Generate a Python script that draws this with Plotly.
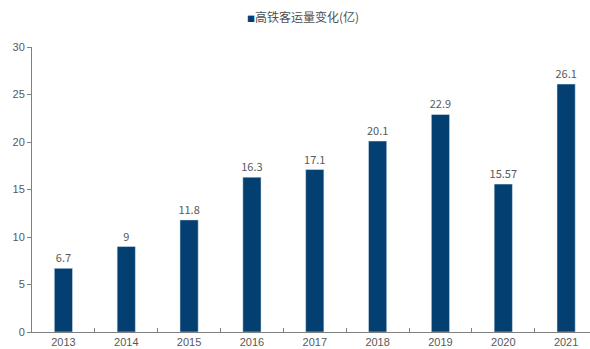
import plotly.graph_objects as go

years = ["2013", "2014", "2015", "2016", "2017", "2018", "2019", "2020", "2021"]
values = [6.7, 9, 11.8, 16.3, 17.1, 20.1, 22.9, 15.57, 26.1]
labels = ["6.7", "9", "11.8", "16.3", "17.1", "20.1", "22.9", "15.57", "26.1"]
series_name = "高铁客运量变化(亿)"
bar_color = "#033f71"

fig = go.Figure()
fig.add_trace(go.Bar(
    x=years, y=values, name=series_name,
    marker=dict(color=bar_color),
    width=0.29,
    text=labels, textposition="outside", cliponaxis=False,
    constraintext="none",
    textfont=dict(family="Noto Sans CJK SC", size=11, color="#595959"),
    showlegend=False,
))
fig.add_annotation(
    xref="paper", yref="paper", x=0.485, y=1.0, yshift=31,
    xanchor="center", yanchor="middle", showarrow=False,
    text=f"<span style='color:{bar_color};font-size:8px'>■</span>{series_name}",
    font=dict(family="Noto Sans CJK SC", size=12, color="#505050"),
)
fig.update_layout(
    width=590, height=349,
    margin=dict(l=32, r=0, t=47, b=17),
    paper_bgcolor="white", plot_bgcolor="white",
    font=dict(family="Noto Sans CJK SC", size=11, color="#595959"),
)
fig.update_xaxes(
    type="category", range=[-0.5, 8.38],
    showline=True, linecolor="#808080", linewidth=1,
    ticks="inside", ticklen=4, tickcolor="#808080", tickson="boundaries",
    showgrid=False, automargin=False,
    tickfont=dict(family="Liberation Sans", size=11, color="#595959"),
)
fig.update_yaxes(
    range=[0, 30], dtick=5,
    showline=True, linecolor="#808080", linewidth=1,
    ticks="outside", ticklen=4, tickcolor="#808080",
    showgrid=False, zeroline=False, automargin=False,
    tickfont=dict(family="Liberation Sans", size=11, color="#595959"),
)
fig.write_html("out.html")
